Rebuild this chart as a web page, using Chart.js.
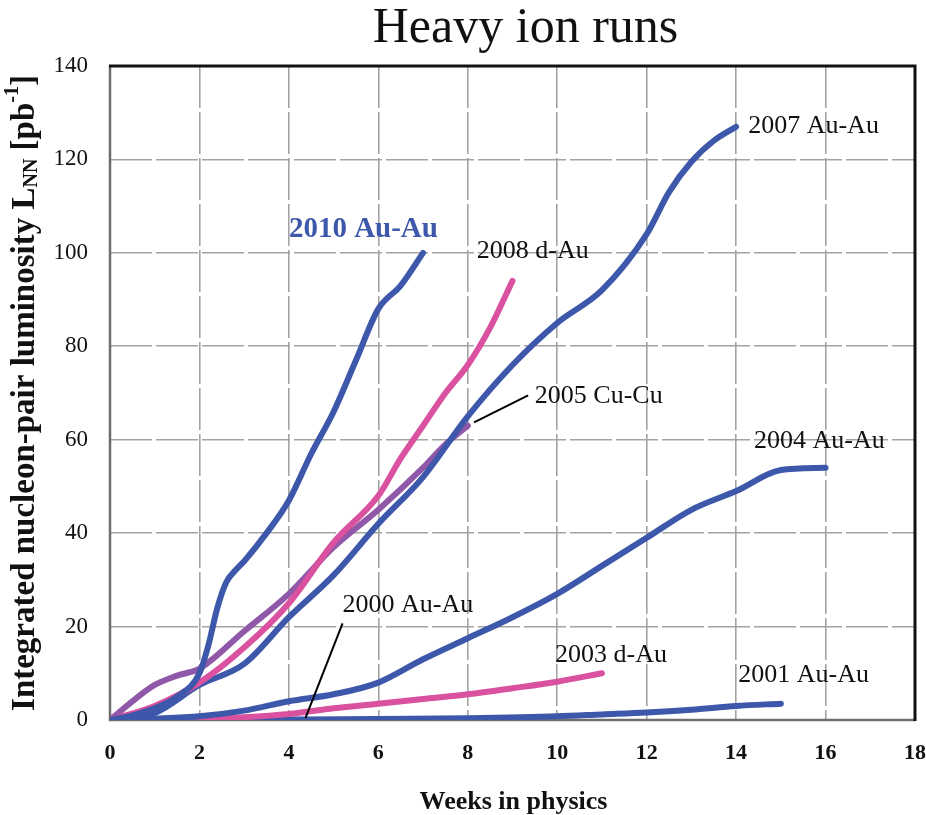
<!DOCTYPE html>
<html>
<head>
<meta charset="utf-8">
<script src="https://cdn.jsdelivr.net/npm/chart.js@4.4.1/dist/chart.umd.min.js"></script>
<style>
  html, body { margin: 0; padding: 0; background: #fff; }
</style>
</head>
<body>
<canvas id="lumiChart" width="926" height="815"></canvas>
<script>
// ---------- Data: weeks in physics vs integrated L_NN [pb^-1] ----------
const weeks2010 = [0, 0.5, 1, 1.5, 2, 2.2, 2.4, 2.6, 2.8, 3, 3.5, 4, 4.5, 5, 5.5, 6, 6.5, 7];
const lumi2010 = [0, 1, 2.5, 5, 10, 16, 24, 29.5, 32, 34, 40, 47, 57, 66, 77, 88, 93, 100];

const weeks2008 = [0, 1, 2, 3, 4, 5, 6, 6.5, 7, 7.5, 8, 8.5, 9];
const lumi2008 = [0, 3, 8, 15.5, 25, 38, 48, 56, 63, 70, 76, 84, 94];

const weeks2005 = [0, 0.5, 1, 1.5, 2, 3, 4, 5, 6, 7, 7.5, 8];
const lumi2005 = [0, 4, 7.5, 9.5, 11, 19, 27, 37, 45, 54, 59, 63];

const weeks2007 = [0, 1, 2, 3, 4, 5, 6, 7, 8, 9, 10, 11, 12, 12.5, 13, 13.5, 14];
const lumi2007 = [0, 1.5, 7.5, 12, 22, 31, 42, 52, 65, 76, 85, 92, 104, 113, 119.5, 124, 127];

const weeks2004 = [0, 1, 2, 3, 4, 5, 6, 7, 8, 9, 10, 11, 12, 13, 14, 15, 16];
const lumi2004 = [0, 0.3, 0.8, 2, 4, 5.5, 8, 13, 17.5, 22, 27, 33, 39, 45, 49, 53.5, 54];

const weeks2003 = [0, 2, 3, 4, 5, 6, 7, 8, 9, 10, 11];
const lumi2003 = [0, 0.2, 0.6, 1.3, 2.5, 3.5, 4.5, 5.5, 6.8, 8.2, 10];

const weeks2001 = [0, 2, 4, 6, 8, 10, 11, 12, 13, 14, 15];
const lumi2001 = [0, 0, 0.1, 0.2, 0.4, 0.8, 1.2, 1.6, 2.2, 3, 3.5];

const weeks2000 = [0, 2, 4, 6, 7.6];
const lumi2000 = [0, 0, 0, 0.05, 0.1];

const xTicks = [0, 2, 4, 6, 8, 10, 12, 14, 16, 18];
const yTicks = [0, 20, 40, 60, 80, 100, 120, 140];

// run labels, anchored in data coords (left edge, text baseline)
const labelTexts = ["2010 Au-Au", "2008 d-Au", "2007 Au-Au", "2005 Cu-Cu", "2004 Au-Au", "2000 Au-Au", "2003 d-Au", "2001 Au-Au"];
const labelWeeks = [4.0, 8.2, 14.27, 9.5, 14.4, 5.2, 9.95, 14.05];
const labelLumi = [103.3, 98.8, 125.6, 67.8, 58.2, 23.1, 12.4, 8.1];

// leader lines: [x1, y1, x2, y2] in data coords
const leaders = [
  [8.14, 63.7, 9.35, 69.5],
  [5.2, 20.7, 4.37, 0.4],
];

// ---------- Colours ----------
const BLUE = "#3d58aa";
const PINK = "#d9519f";
const PURPLE = "#9058a8";
const SERIF = "'Liberation Serif', 'Times New Roman', serif";

function toPoints(xs, ys) {
  return xs.map((x, i) => ({ x, y: ys[i] }));
}

function run(label, xs, ys, color) {
  return {
    label,
    data: toPoints(xs, ys),
    borderColor: color,
    backgroundColor: color,
    borderWidth: 6,
    pointRadius: 0,
    fill: false,
    cubicInterpolationMode: "monotone",
    borderCapStyle: "round",
    borderJoinStyle: "round",
  };
}

// ---------- Frame, labels and titles ----------
const decorPlugin = {
  id: "decor",
  beforeDatasetsDraw(chart) {
    const { ctx, chartArea: a } = chart;
    ctx.save();
    ctx.lineCap = "butt";
    ctx.strokeStyle = "#6e6e6e";
    ctx.lineWidth = 2.5;
    ctx.beginPath();
    ctx.moveTo(a.left, a.top);
    ctx.lineTo(a.left, a.bottom);
    ctx.lineTo(a.right, a.bottom);
    ctx.stroke();
    ctx.strokeStyle = "#111";
    ctx.lineWidth = 3;
    ctx.beginPath();
    ctx.moveTo(a.left - 1, a.top);
    ctx.lineTo(a.right, a.top);
    ctx.lineTo(a.right, a.bottom + 1);
    ctx.stroke();
    ctx.restore();
  },
  afterDatasetsDraw(chart) {
    const { ctx, chartArea: a, scales: { x, y } } = chart;
    ctx.save();

    // leader lines
    ctx.strokeStyle = "#000";
    ctx.lineWidth = 2;
    for (const [x1, y1, x2, y2] of leaders) {
      ctx.beginPath();
      ctx.moveTo(x.getPixelForValue(x1), y.getPixelForValue(y1));
      ctx.lineTo(x.getPixelForValue(x2), y.getPixelForValue(y2));
      ctx.stroke();
    }

    // run labels
    ctx.textAlign = "left";
    ctx.textBaseline = "alphabetic";
    labelTexts.forEach((t, i) => {
      if (i === 0) {
        ctx.font = "bold 29px " + SERIF;
        ctx.fillStyle = BLUE;
      } else {
        ctx.font = "26px " + SERIF;
        ctx.fillStyle = "#111";
      }
      ctx.fillText(t, x.getPixelForValue(labelWeeks[i]), y.getPixelForValue(labelLumi[i]));
    });

    // main title
    ctx.fillStyle = "#111";
    ctx.textAlign = "center";
    ctx.font = "50px " + SERIF;
    ctx.fillText("Heavy ion runs", (a.left + a.right) / 2 + 13, 42);

    // x axis title
    ctx.font = "bold 26px " + SERIF;
    ctx.fillText("Weeks in physics", (a.left + a.right) / 2 + 1, 809);

    // y axis title with subscript / superscript
    const big = "bold 33px " + SERIF;
    const small = "bold 20px " + SERIF;
    const parts = [
      ["Integrated nucleon-pair luminosity L", big, 0],
      ["NN", small, 7],
      [" [pb", big, 0],
      ["-1", small, -12],
      ["]", big, 0],
    ];
    let total = 0;
    for (const p of parts) {
      ctx.font = p[1];
      total += ctx.measureText(p[0]).width;
    }
    ctx.translate(25, (a.top + a.bottom) / 2);
    ctx.rotate(-Math.PI / 2);
    ctx.textAlign = "left";
    ctx.textBaseline = "middle";
    let cx = -total / 2;
    for (const [t, f, dy] of parts) {
      ctx.font = f;
      ctx.fillText(t, cx, dy);
      cx += ctx.measureText(t).width;
    }
    ctx.restore();
  },
};

const datasets = [
  run("2010 Au-Au", weeks2010, lumi2010, BLUE),
  run("2008 d-Au", weeks2008, lumi2008, PINK),
  run("2007 Au-Au", weeks2007, lumi2007, BLUE),
  run("2005 Cu-Cu", weeks2005, lumi2005, PURPLE),
  run("2004 Au-Au", weeks2004, lumi2004, BLUE),
  run("2003 d-Au", weeks2003, lumi2003, PINK),
  run("2001 Au-Au", weeks2001, lumi2001, BLUE),
  run("2000 Au-Au", weeks2000, lumi2000, BLUE),
];

const gridStyle = {
  color: "#a3a3a3",
  lineWidth: 1.6,
  drawTicks: false,
};

new Chart(document.getElementById("lumiChart"), {
  type: "line",
  data: { datasets },
  plugins: [decorPlugin],
  options: {
    responsive: false,
    animation: false,
    devicePixelRatio: 1,
    layout: { padding: { top: 66, right: 11, left: 0, bottom: 0 } },
    plugins: {
      legend: { display: false },
      title: { display: false },
      tooltip: { enabled: false },
    },
    scales: {
      x: {
        type: "linear",
        min: 0,
        max: 18,
        afterBuildTicks: (s) => { s.ticks = xTicks.map((v) => ({ value: v })); },
        afterFit: (s) => { s.height = 95; s.paddingLeft = 0; s.paddingRight = 0; },
        grid: gridStyle,
        border: { display: false, dash: [42, 4] },
        ticks: {
          padding: 20,
          color: "#111",
          font: { family: SERIF, size: 22, weight: "bold" },
        },
      },
      y: {
        min: 0,
        max: 140,
        afterBuildTicks: (s) => { s.ticks = yTicks.map((v) => ({ value: v })); },
        afterFit: (s) => { s.width = 110; s.paddingTop = 0; s.paddingBottom = 0; },
        grid: gridStyle,
        border: { display: false, dash: [42, 4] },
        ticks: {
          padding: 22,
          color: "#111",
          font: { family: SERIF, size: 23 },
        },
      },
    },
  },
});
</script>
</body>
</html>
